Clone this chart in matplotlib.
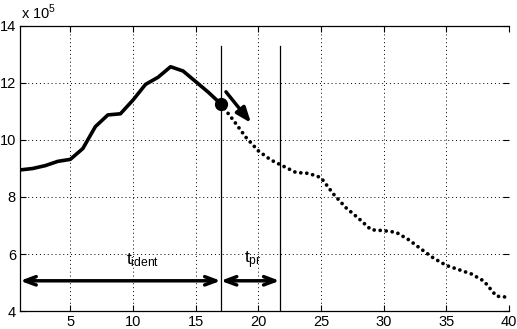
import numpy as np
import matplotlib
matplotlib.use("Agg")
import matplotlib.pyplot as plt

plt.rcParams['font.family'] = ['Liberation Sans', 'DejaVu Sans']

# identified part (solid) and predicted part (dotted), values in units of 1e5
t_ident = [1, 2, 3, 4, 5, 6, 7, 8, 9, 10, 11, 12, 13, 14, 15, 16, 17]
y_ident = [8.95, 9.0, 9.1, 9.25, 9.32, 9.7, 10.47, 10.88, 10.92, 11.4,
           11.95, 12.2, 12.57, 12.42, 12.05, 11.68, 11.27]
t_pred = [17, 18, 19, 20, 21, 22, 23, 24, 25, 26, 27, 28, 29, 30, 31, 32,
          33, 34, 35, 36, 37, 38, 39, 40]
y_pred = [11.27, 10.7, 10.1, 9.62, 9.3, 9.08, 8.86, 8.83, 8.68, 8.1, 7.62,
          7.25, 6.85, 6.82, 6.76, 6.5, 6.17, 5.85, 5.6, 5.45, 5.3, 5.05,
          4.52, 4.48]

t_now = 17
t_end = 21.7
x_ticks = [5, 10, 15, 20, 25, 30, 35, 40]
y_ticks = [4, 6, 8, 10, 12, 14]

fig = plt.figure(figsize=(5.17, 3.29), dpi=100)
ax = fig.add_axes([0.039, 0.0547, 0.9455, 0.8663])

ax.plot(t_ident, y_ident, color='black', lw=2.6, solid_joinstyle='round')
ax.plot(t_pred, y_pred, color='black', lw=2.7, linestyle=(0, (0.01, 1.6)),
        dash_capstyle='round')
ax.plot([t_now], [y_ident[-1]], 'o', color='black', ms=8.5)

# trend arrow
ax.annotate('', xy=(19.42, 10.6), xytext=(17.42, 11.69),
            arrowprops=dict(arrowstyle='-|>,head_length=0.9,head_width=0.35',
                            color='black', lw=2.5, shrinkA=0, shrinkB=0))

# vertical markers
ax.plot([t_now, t_now], [4, 13.3], color='black', lw=0.9)
ax.plot([t_end, t_end], [4, 13.3], color='black', lw=0.9)

# interval arrows
arr = dict(arrowstyle='<->,head_length=0.8,head_width=0.3', color='black',
           lw=2.5, shrinkA=0, shrinkB=0)
ax.annotate('', xy=(1, 5.06), xytext=(t_now, 5.06), arrowprops=arr)
ax.annotate('', xy=(t_now, 5.06), xytext=(t_end, 5.06), arrowprops=arr)
ax.text(10.8, 5.8, r'$\mathregular{t_{ident}}$', fontsize=12.5, ha='center',
        va='center')
ax.text(19.6, 5.8, r'$\mathregular{t_{pr}}$', fontsize=12.5, ha='center',
        va='center')

ax.set_xlim(1, 40)
ax.set_ylim(4, 14)
ax.set_xticks(x_ticks)
ax.set_yticks(y_ticks)
ax.tick_params(direction='in', length=4, labelsize=10.5, right=True,
               top=True, width=0.8, pad=3)
ax.grid(True, color='black', linestyle=(0, (1, 3)), lw=0.7)
ax.spines['right'].set_visible(False)
for s in ['left', 'top', 'bottom']:
    ax.spines[s].set_linewidth(0.9)

fig.text(0.04, 0.962, r'x 10$^{\mathregular{5}}$', fontsize=10.5,
         ha='left', va='center')

fig.savefig('out.png', dpi=100)
